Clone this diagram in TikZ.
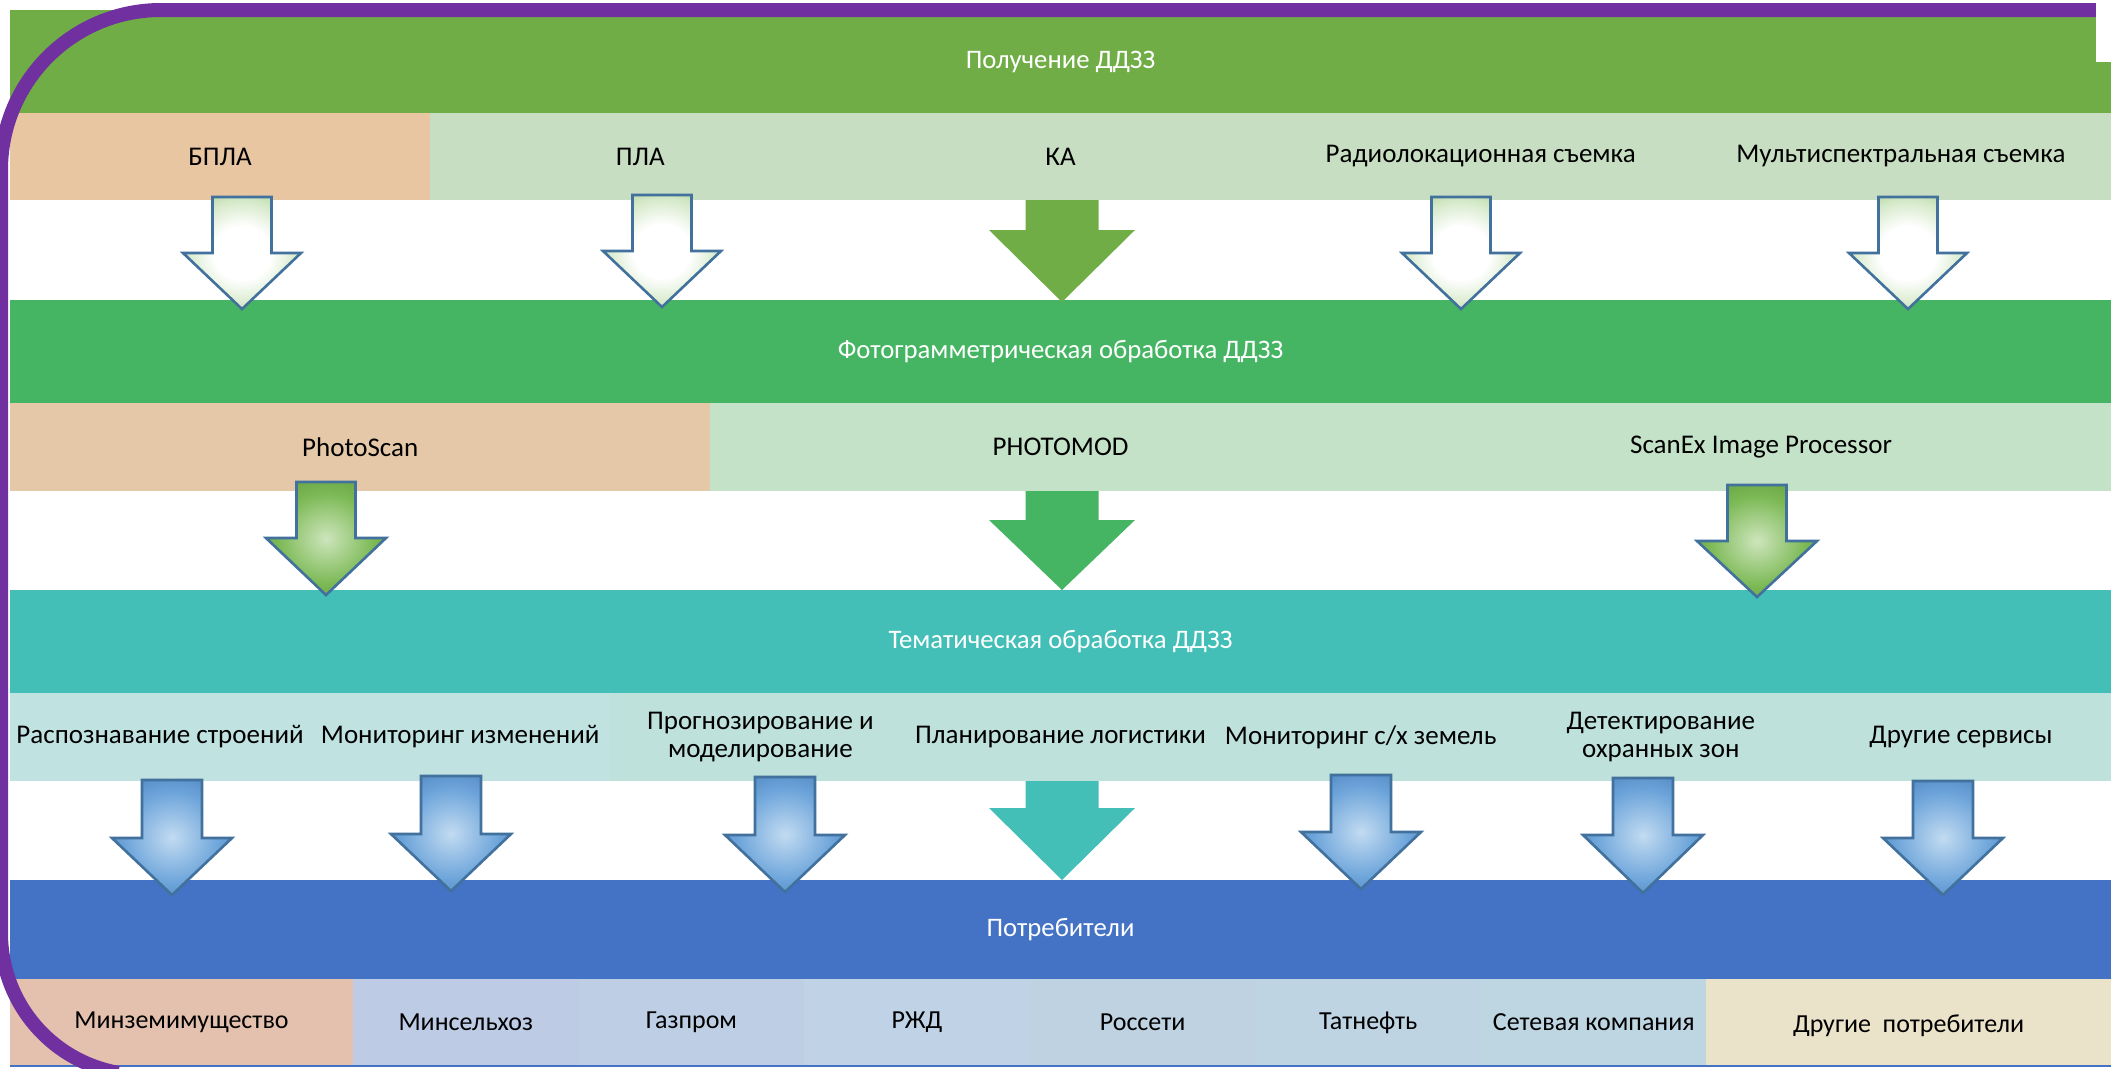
\documentclass[tikz,border=0pt]{standalone}
\usepackage{fontspec}
\setmainfont{Carlito}
\definecolor{bandA}{HTML}{70AD47}
\definecolor{bandB}{HTML}{46B563}
\definecolor{bandC}{HTML}{43BFB8}
\definecolor{bandD}{HTML}{4472C4}
\definecolor{peachA}{HTML}{E9C6A2}
\definecolor{peachB}{HTML}{E4C8A7}
\definecolor{peachD}{HTML}{E4C1AF}
\definecolor{lgA}{HTML}{C8DEC2}
\definecolor{lgB}{HTML}{C4E2C8}
\definecolor{ltA}{HTML}{C0E3E2}
\definecolor{ltB}{HTML}{BEE1DB}
\definecolor{lbA}{HTML}{BDCBE5}
\definecolor{lbB}{HTML}{BECFE5}
\definecolor{lbC}{HTML}{BFD2E6}
\definecolor{lbD}{HTML}{BED2E2}
\definecolor{lbE}{HTML}{BED4E2}
\definecolor{lbF}{HTML}{BED6E2}
\definecolor{cream}{HTML}{EAE2C9}
\definecolor{purp}{HTML}{7030A0}
\definecolor{arrline}{HTML}{41719C}
\definecolor{wMid}{HTML}{D3E8C6}
\definecolor{wOut}{HTML}{8DC174}
\definecolor{gIn}{HTML}{CDE5BC}
\definecolor{gMid}{HTML}{7CB955}
\definecolor{gOut}{HTML}{5C9838}
\definecolor{bIn}{HTML}{C2DBF1}
\definecolor{bMid}{HTML}{6CA4DA}
\definecolor{bOut}{HTML}{4579B5}
\pgfdeclareradialshading{arrW}{\pgfpoint{0bp}{0bp}}{color(0bp)=(white); color(12bp)=(white); color(24bp)=(wMid); color(36bp)=(wOut); color(50bp)=(wOut)}
\pgfdeclareradialshading{arrG}{\pgfpoint{0bp}{0bp}}{color(0bp)=(gIn); color(20bp)=(gMid); color(36bp)=(gOut); color(50bp)=(gOut)}
\pgfdeclareradialshading{arrB}{\pgfpoint{0bp}{0bp}}{color(0bp)=(bIn); color(20bp)=(bMid); color(36bp)=(bOut); color(50bp)=(bOut)}
\tikzset{
  band/.style={inner sep=0, minimum width=2101, text=white, font=\fontsize{26.7}{30}\selectfont},
  cell/.style={inner sep=0, text=black, align=center, font=\fontsize{27}{28}\selectfont},
  arW/.style={shading=arrW, draw=arrline, line width=2.6, line join=miter},
  arG/.style={shading=arrG, draw=arrline, line width=2.6, line join=miter},
  arB/.style={shading=arrB, draw=arrline, line width=2.6, line join=miter},
}
% #1 style, #2 cx, #3 top, #4 shoulder, #5 tip, #6 half shaft, #7 half head
\newcommand\blockarrow[7]{%
  \path[#1] ({#2-#6},#3) -- ({#2+#6},#3) -- ({#2+#6},#4) -- ({#2+#7},#4) -- (#2,#5)
    -- ({#2-#7},#4) -- ({#2-#6},#4) -- cycle;}
\begin{document}
\begin{tikzpicture}[x=1pt,y=-1pt]
\useasboundingbox (0,0) rectangle (2111,1068);
\fill[white] (0,0) rectangle (2111,1068);
% ---- band 1
\node[band, fill=bandA, minimum height=103] (b1) at (1060.5,61.5) {Получение ДДЗЗ};
\foreach \t/\c/\n [count=\i from 0] in {{БПЛА}/peachA/r2a, {ПЛА}/lgA/r2b, {КА}/lgA/r2c, {Радиолокационная съемка}/lgA/r2d, {Мультиспектральная съемка}/lgA/r2e}{
  \node[cell, fill=\c, minimum width=420.2, minimum height=87] (\n) at ({10+210.1+420.2*\i},156.5) {\t};
}
% ---- band 2
\node[band, fill=bandB, minimum height=103] (b2) at (1060.5,351.5) {Фотограмметрическая обработка ДДЗЗ};
\foreach \t/\c/\n [count=\i from 0] in {{PhotoScan}/peachB/r4a, {PHOTOMOD}/lgB/r4b, {ScanEx Image Processor}/lgB/r4c}{
  \node[cell, fill=\c, minimum width=700.4, minimum height=88] (\n) at ({10+350.2+700.4*\i},447) {\t};
}
% ---- band 3
\node[band, fill=bandC, minimum height=103] (b3) at (1060.5,641.5) {Тематическая обработка ДДЗЗ};
\foreach \t/\c/\n [count=\i from 0] in {{Распознавание строений}/ltA/r6a, {Мониторинг изменений}/ltA/r6b, {Прогнозирование и\\моделирование}/ltB/r6c, {Планирование логистики}/ltB/r6d, {Мониторинг с/х земель}/ltB/r6e, {Детектирование\\охранных зон}/ltB/r6f, {Другие сервисы}/ltB/r6g}{
  \node[cell, fill=\c, minimum width=300.15, minimum height=88] (\n) at ({10+150.07+300.15*\i},737) {\t};
}
% ---- band 4
\node[band, fill=bandD, minimum height=99] (b4) at (1060.5,929.5) {Потребители};
\node[cell, fill=peachD, minimum width=343, minimum height=87, font=\fontsize{26}{28}\selectfont] (c0) at (181.5,1022.5) {Минземимущество};
\foreach \t/\c/\n [count=\i from 0] in {{Минсельхоз}/lbA/c1, {Газпром}/lbB/c2, {РЖД}/lbC/c3, {Россети}/lbD/c4, {Татнефть}/lbE/c5, {Сетевая компания}/lbF/c6}{
  \node[cell, fill=\c, minimum width=225.6, minimum height=87, font=\fontsize{26}{28}\selectfont] (\n) at ({353+112.8+225.6*\i},1022.5) {\t};
}
\node[cell, fill=cream, minimum width=405, minimum height=87, font=\fontsize{26}{28}\selectfont] (c7) at (1908.5,1022.5) {};
\node[cell, font=\fontsize{26}{28}\selectfont] (c7t) at (1908.5,1026) {Другие\ \ потребители};
\draw[bandD, line width=2] (c0.south west) -- (c7.south east);
% ---- arrows row 1
\blockarrow{arW}{242}{197}{253}{309}{29.5}{59}
\blockarrow{arW}{662}{195}{251}{307}{29.5}{59}
\blockarrow{arW}{1461}{197}{253}{309}{29.5}{59}
\blockarrow{arW}{1908}{197}{253}{309}{29.5}{59}
\blockarrow{fill=bandA}{1062}{200}{230}{302}{36.5}{73}
% ---- arrows row 2
\blockarrow{arG}{326}{482}{538}{595}{29.5}{60}
\blockarrow{fill=bandB}{1062}{491}{520}{590}{36.5}{73}
\blockarrow{arG}{1757}{485}{541}{597}{29.5}{60}
% ---- arrows row 3
\blockarrow{arB}{172}{780}{838}{895}{30}{60}
\blockarrow{arB}{451}{776}{834}{891}{30}{60}
\blockarrow{arB}{785}{777}{835}{892}{30}{60}
\blockarrow{fill=bandC}{1062}{781}{808}{880}{36.5}{73}
\blockarrow{arB}{1361}{775}{832}{889}{30}{60}
\blockarrow{arB}{1643}{778}{835}{893}{30}{60}
\blockarrow{arB}{1943}{781}{838}{895}{30}{60}
% ---- purple frame
\draw[purp, line width=14] (2130,10) -- (161,10) arc[start angle=270, end angle=180, radius=160]
  -- (1,933) arc[start angle=180, end angle=100, radius=142];
\fill[white] (2096,0) rectangle (2112,62);
\end{tikzpicture}
\end{document}
